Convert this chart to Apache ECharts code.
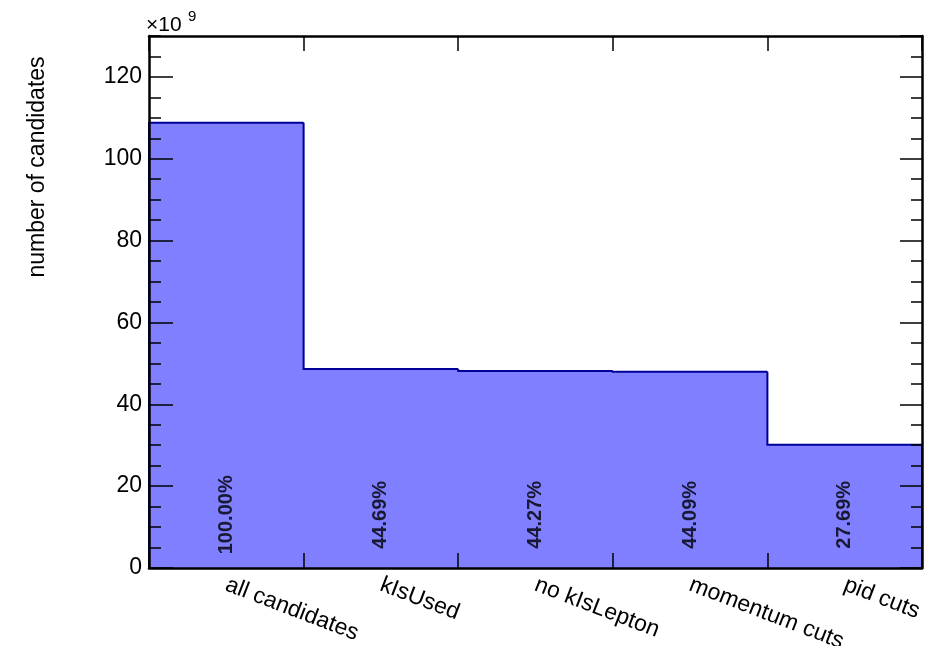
<!DOCTYPE html>
<html>
<head>
<meta charset="utf-8">
<script src="https://cdn.jsdelivr.net/npm/echarts@6/dist/echarts.min.js"></script>
<style>
  html, body { margin: 0; padding: 0; background: #fff; overflow: hidden; }
  #chart { width: 939px; height: 646px; }
</style>
</head>
<body>
<div id="chart"></div>
<script>
// Selection cut flow: candidates surviving each step (in units of 1e9)
const cutNames = ['all candidates', 'kIsUsed', 'no kIsLepton', 'momentum cuts', 'pid cuts'];
const totalCandidates = 108.8;                            // x 10^9, first bin
const passPercent = [100.00, 44.69, 44.27, 44.09, 27.69]; // fraction kept, %
const yTickLabels = [0, 20, 40, 60, 80, 100, 120];

const FONT = "'Liberation Sans', Arial, Helvetica, sans-serif";
const percentLabelLevel = 13; // height (x 10^9) at which the percentages are centred

// bin contents derived from the total and the printed percentages
const counts = passPercent.map(p => totalCandidates * p / 100);

// one item per bin: [bin index, content, content of the previous bin]
const binItems = counts.map((c, i) => [i, c, i === 0 ? 0 : counts[i - 1]]);
const percentPoints = counts.map((c, i) => ({ value: [i + 0.5, percentLabelLevel], pct: passPercent[i] }));

const FILL = '#7f7fff';
const EDGE = '#000099';
const black = '#000';

// filled bin plus its part of the step outline (left riser + top edge)
function renderBin(params, api) {
  const i = api.value(0), c = api.value(1), prev = api.value(2);
  const p0 = api.coord([i, 0]);
  const p1 = api.coord([i + 1, c]);
  const children = [
    {
      type: 'rect',
      shape: { x: p0[0], y: p1[1], width: p1[0] - p0[0], height: p0[1] - p1[1] },
      style: { fill: FILL, stroke: FILL, lineWidth: 1 }
    },
    {
      type: 'polyline',
      shape: { points: [api.coord([i, prev]), api.coord([i, c]), api.coord([i + 1, c])] },
      style: { stroke: EDGE, lineWidth: 2, fill: null }
    }
  ];
  if (i === counts.length - 1) {
    children.push({
      type: 'polyline',
      shape: { points: [api.coord([i + 1, c]), api.coord([i + 1, 0])] },
      style: { stroke: EDGE, lineWidth: 2, fill: null }
    });
  }
  return { type: 'group', children };
}

const chart = echarts.init(document.getElementById('chart'), null, { renderer: 'canvas' });

const frameLine = { show: true, onZero: false, lineStyle: { color: black, width: 2.5 } };

function yAxisDef(pos, step, tickLen, showLabels) {
  return {
    type: 'value', position: pos, min: 0, max: 130, interval: step,
    z: 10,
    axisLine: step === 20 ? frameLine : { show: false, onZero: false },
    axisTick: { show: true, inside: true, length: tickLen, lineStyle: { color: black, width: 1.5 } },
    axisLabel: showLabels ? {
      show: true, fontSize: 23, color: black, fontFamily: FONT, margin: 7,
      showMaxLabel: false,
      formatter: v => (yTickLabels.indexOf(v) >= 0 ? String(v) : '')
    } : { show: false },
    splitLine: { show: false }
  };
}

chart.setOption({
  animation: false,
  backgroundColor: '#fff',
  textStyle: { fontFamily: FONT },
  grid: { left: 149, right: 17, top: 36, bottom: 78, containLabel: false, outerBoundsMode: 'none' },
  xAxis: [
    {
      type: 'category', position: 'bottom', data: cutNames, boundaryGap: true, z: 10,
      axisLine: frameLine,
      axisTick: { show: true, inside: true, length: 15, alignWithLabel: false, lineStyle: { color: black, width: 1.5 } },
      axisLabel: { show: true, rotate: -21, fontSize: 23, color: black, fontFamily: FONT, margin: 16, interval: 0 },
      splitLine: { show: false }
    },
    {
      type: 'category', position: 'top', data: cutNames, boundaryGap: true, z: 10,
      axisLine: { show: true, onZero: false, lineStyle: { color: black, width: 2.5 } },
      axisTick: { show: true, inside: true, length: 15, alignWithLabel: false, lineStyle: { color: black, width: 1.5 } },
      axisLabel: { show: false },
      splitLine: { show: false }
    },
    {
      type: 'value', min: 0, max: cutNames.length, show: false,
      axisLine: { show: false, onZero: false }, axisTick: { show: false }, axisLabel: { show: false }, splitLine: { show: false }
    }
  ],
  yAxis: [
    yAxisDef('left', 20, 24, true),
    yAxisDef('left', 5, 12, false),
    yAxisDef('right', 20, 22, false),
    yAxisDef('right', 5, 11, false)
  ],
  series: [
    {
      type: 'custom',
      xAxisIndex: 2, yAxisIndex: 0,
      data: binItems,
      renderItem: renderBin,
      encode: { x: 0, y: 1 },
      z: 2
    },
    {
      type: 'scatter',
      xAxisIndex: 2, yAxisIndex: 0,
      data: percentPoints,
      symbolSize: 1,
      itemStyle: { color: 'rgba(0,0,0,0)' },
      label: {
        show: true, position: 'inside', rotate: 90,
        fontSize: 20, fontWeight: 'bold', color: black, fontFamily: FONT,
        formatter: p => p.data.pct.toFixed(2) + '%'
      },
      z: 5
    }
  ],
  graphic: [
    {
      type: 'text', x: 38, y: 167, rotation: Math.PI / 2,
      style: { text: 'number of candidates', fontSize: 23, fontFamily: FONT, fill: black, align: 'center', verticalAlign: 'middle' }
    },
    {
      type: 'text', x: 146, y: 36,
      style: { text: '\u00d710', fontSize: 21, fontFamily: FONT, fill: black, align: 'left', verticalAlign: 'bottom' }
    },
    {
      type: 'text', x: 188, y: 9,
      style: { text: '9', fontSize: 15, fontFamily: FONT, fill: black, align: 'left', verticalAlign: 'top' }
    }
  ]
});
</script>
</body>
</html>
